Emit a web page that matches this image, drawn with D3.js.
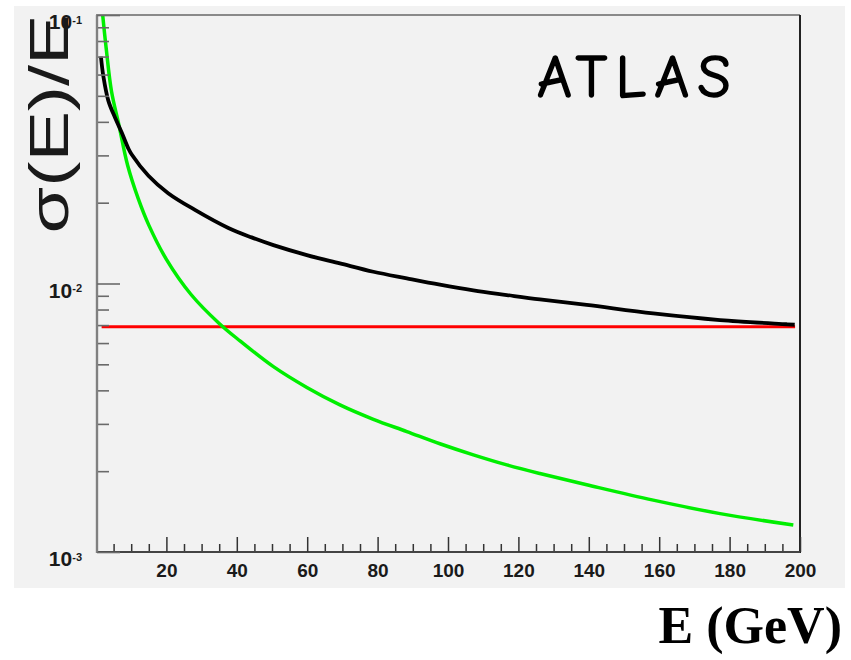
<!DOCTYPE html>
<html>
<head>
<meta charset="utf-8">
<script src="https://cdn.jsdelivr.net/npm/d3@7"></script>
<style>
  html, body { margin: 0; padding: 0; background: #ffffff; }
  svg { display: block; }
</style>
</head>
<body>
<svg id="chart" width="851" height="660"></svg>
<script>
// Energy resolution sigma(E)/E versus beam energy E (GeV)

// total resolution (black)
const totalE = [1.4, 2.1, 3.5, 5.4, 7.3, 9.2, 10.1, 14.9, 20.5, 28.1, 37.6, 44.2, 50.4, 59.9, 69.3, 78.8, 88.3, 97.7, 107.2, 116.7, 126.1, 139.4, 158.3, 177.3, 196.2, 198.5];
const totalV = [0.070, 0.059, 0.048, 0.0415, 0.0365, 0.0318, 0.0303, 0.0252, 0.0217, 0.0188, 0.0161, 0.01485, 0.0139, 0.01276, 0.01188, 0.01106, 0.01045, 0.00990, 0.00943, 0.00906, 0.00872, 0.00832, 0.00774, 0.00731, 0.00705, 0.00702];

// noise term (green)
const noiseE = [1.9, 2.9, 4.4, 6.5, 9.0, 12.0, 15.0, 20.0, 27.0, 35.0, 41.0, 50.4, 59.9, 69.3, 78.8, 88.3, 97.7, 107.2, 116.7, 126.1, 139.4, 158.3, 177.3, 198.1];
const noiseV = [0.100, 0.075, 0.052, 0.039, 0.0275, 0.0207, 0.0165, 0.0123, 0.0091, 0.0071, 0.0061, 0.0049, 0.0041, 0.00353, 0.00312, 0.00281, 0.00253, 0.00230, 0.00211, 0.00196, 0.00178, 0.00156, 0.00139, 0.00126];

// constant term (red)
const constE = [1.6, 198.6];
const constV = [0.0069, 0.0069];

// axis ticks
const xMajor = [20, 40, 60, 80, 100, 120, 140, 160, 180, 200];
const xMinor = d3.range(5, 200, 5).filter(v => v % 20 !== 0);
const yMajor = [1e-3, 1e-2, 1e-1];
const yMajorExp = ["-3", "-2", "-1"];
const yMinor = [2,3,4,5,6,7,8,9].map(m => m * 1e-3).concat([2,3,4,5,6,7,8,9].map(m => m * 1e-2));

const svg = d3.select("#chart");

// panel background
svg.append("rect").attr("x", 14).attr("y", 6).attr("width", 831).attr("height", 582).attr("fill", "#f2f2f2");

const x = d3.scaleLinear().domain([0, 200]).range([96, 800]);
const y = d3.scaleLog().domain([1e-3, 1e-1]).range([552, 15]);

const plot = svg.append("g");

// clip to frame
svg.append("defs").append("clipPath").attr("id", "frameClip")
  .append("rect").attr("x", 96).attr("y", 15).attr("width", 704).attr("height", 537);

const line = d3.line().x(d => x(d[0])).y(d => y(d[1])).curve(d3.curveCatmullRom.alpha(0.5));
const curves = plot.append("g").attr("clip-path", "url(#frameClip)");

curves.append("path").datum(d3.zip(constE, constV)).attr("d", line)
  .attr("fill", "none").attr("stroke", "#ff0000").attr("stroke-width", 3);
curves.append("path").datum(d3.zip(noiseE, noiseV)).attr("d", line)
  .attr("fill", "none").attr("stroke", "#00ee00").attr("stroke-width", 3.5);
curves.append("path").datum(d3.zip(totalE, totalV)).attr("d", line)
  .attr("fill", "none").attr("stroke", "#000000").attr("stroke-width", 3.8);

// frame lines
plot.append("line").attr("x1", 96).attr("x2", 800).attr("y1", 15).attr("y2", 15).attr("stroke", "#8a8a8a").attr("stroke-width", 2);
plot.append("line").attr("x1", 800).attr("x2", 800).attr("y1", 15).attr("y2", 553).attr("stroke", "#222").attr("stroke-width", 2);

// x axis
const xMinorAxis = d3.axisBottom(x).tickValues(xMinor).tickSize(-8).tickFormat("");
const gxm = svg.append("g").attr("transform", "translate(0,552)").call(xMinorAxis);
const xAxis = d3.axisBottom(x).tickValues(xMajor).tickSize(-15).tickPadding(12).tickFormat(d3.format("d"));
const gx = svg.append("g").attr("transform", "translate(0,552)").call(xAxis);
[gx, gxm].forEach(g => {
  g.select(".domain").attr("d", "M96,0H800").attr("stroke", "#444").attr("stroke-width", 2);
  g.selectAll(".tick line").attr("stroke", "#333").attr("stroke-width", 1.5);
});
gx.selectAll(".tick text")
  .attr("font-family", "'Liberation Sans', Arial, Helvetica, sans-serif")
  .attr("font-size", 19).attr("font-weight", "bold").attr("fill", "#1a1a1a");

// y axis
const yMinorAxis = d3.axisLeft(y).tickValues(yMinor).tickSize(-12).tickFormat("");
const gym = svg.append("g").attr("transform", "translate(97,0)").call(yMinorAxis);
const yAxis = d3.axisLeft(y).tickValues(yMajor).tickSize(-23).tickPadding(15).tickFormat(() => "");
const gy = svg.append("g").attr("transform", "translate(97,0)").call(yAxis);
[gy, gym].forEach(g => {
  g.select(".domain").attr("d", "M0,15V553").attr("stroke", "#808080").attr("stroke-width", 2.2);
  g.selectAll(".tick line").attr("stroke", "#6a6a6a").attr("stroke-width", 1.6);
});
gy.selectAll(".tick text").each(function(d, i) {
  const t = d3.select(this)
    .attr("font-family", "'Liberation Sans', Arial, Helvetica, sans-serif")
    .attr("font-size", 21).attr("font-weight", "bold").attr("fill", "#1a1a1a")
    .attr("y", 7);
  t.append("tspan").text("10");
  t.append("tspan").attr("dy", "-0.5em").attr("font-size", 11).text(yMajorExp[i]);
});

// axis titles
svg.append("text")
  .attr("transform", "translate(68,124) rotate(-90) scale(1.35,1)")
  .attr("text-anchor", "middle")
  .attr("font-family", "'Liberation Sans', Arial, Helvetica, sans-serif")
  .attr("font-size", 56)
  .attr("fill", "#1a1a1a")
  .text("σ(E)/E");

svg.append("text")
  .attr("x", 842).attr("y", 643)
  .attr("text-anchor", "end")
  .attr("font-family", "'Liberation Serif', 'Times New Roman', serif")
  .attr("font-weight", "bold")
  .attr("font-size", 52)
  .attr("fill", "#000")
  .text("E (GeV)");

// experiment label
svg.append("text")
  .attr("x", 537).attr("y", 97)
  .attr("font-family", "'Comic Sans MS', 'Comic Neue', 'DejaVu Sans', sans-serif")
  .attr("font-size", 60)
  .attr("letter-spacing", 8.5)
  .attr("fill", "#000")
  .attr("stroke", "#000")
  .attr("stroke-width", 1.6)
  .attr("stroke-linejoin", "round")
  .text("ATLAS");
</script>
</body>
</html>
